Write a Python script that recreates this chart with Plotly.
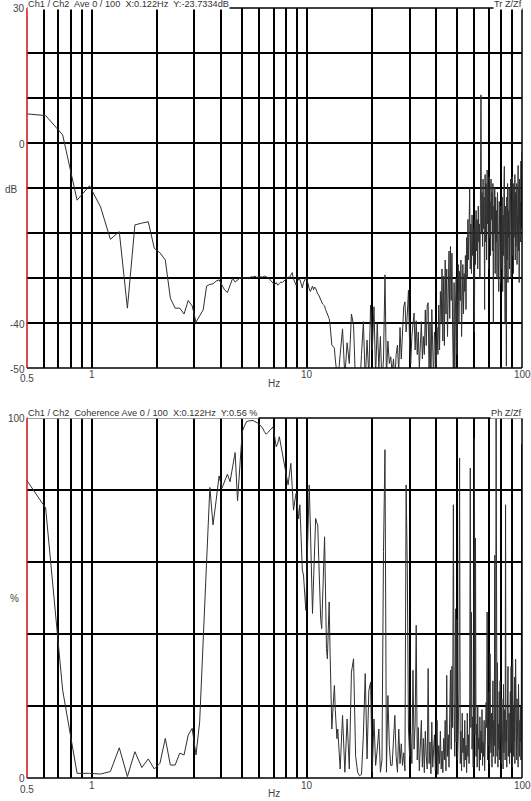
"""
Transfert Ch1/Ch2 (dB) et cohérence (%) sur axe fréquentiel logarithmique
"""

import math
import plotly.graph_objects as go

W, H = 531, 801

# résolution fréquentielle de l'analyseur (Hz)
DF = 0.1220703125

# raies basse fréquence : une par raie (k = 4 ... 113)
k_low = list(range(4, 114))
# raies haute fréquence : une raie sur trois (k = 114 ... 819)
k_high = list(range(114, 820, 3))

# transfert Tr Z/Zf (dB), raies k = 4 ... 113
tr_low = [
    6.5, 6.1, 1.8, -12.7, -9.5, -14.2, -21.4, -19.7, -36.7, -18.2,
    -17.8, -17.5, -23.4, -24.4, -26.0, -34.5, -36.7, -36.7, -38.0, -35.0,
    -36.2, -39.8, -38.4, -37.1, -31.8, -31.4, -31.3, -30.7, -30.4, -31.7,
    -32.7, -33.2, -31.6, -30.1, -30.9, -30.4, -30.0, -29.8, -30.1, -29.9,
    -30.2, -29.7, -29.8, -29.6, -29.9, -29.7, -29.8, -29.8, -29.6, -29.7,
    -29.9, -30.3, -30.8, -31.2, -31.5, -31.0, -31.6, -31.2, -30.9, -31.0,
    -30.6, -30.4, -30.1, -29.8, -29.9, -29.3, -28.8, -30.2, -31.0, -31.6,
    -30.8, -30.2, -30.3, -31.5, -32.2, -31.0, -30.6, -30.0, -30.3, -31.5,
    -32.4, -33.0, -32.2, -31.8, -32.6, -32.0, -32.3, -33.2, -33.5, -33.8,
    -34.4, -35.0, -35.3, -35.8, -36.0, -36.2, -37.0, -37.6, -38.2, -38.7,
    -39.0, -40.4, -42.8, -44.9, -45.1, -45.3, -45.6, -48.0, -49.5, -52.0,
]

# transfert Tr Z/Zf (dB), raies k = 114, 117, ... 819
tr_high = [
    -53, -47, -41.3, -52, -44.4, -49, -38, -40.5, -54, -51,
    -55, -47, -39.7, -53, -43.8, -52, -36, -46, -36.4, -52,
    -40, -50, -43, -54, -48, -29.3, -52, -44, -49, -47.5,
    -51, -48, -53, -47, -44.9, -51, -41, -48, -42, -36.4,
    -35.3, -42, -38, -32.7, -45, -49, -43, -41, -37.8, -46,
    -39.5, -47, -42, -50, -45, -39.7, -48, -43, -47, -37.1,
    -45, -36, -35.5, -52, -40, -55, -37, -48, -53, -42,
    -44, -51, -41, -47, -36, -46, -33, -40, -28, -44,
    -29.6, -45, -26, -38, -28, -43, -31, -24, -39, -23,
    -35, -24.5, -42, -52, -31, -55, -36, -30, -47, -33,
    -27, -40, -28.5, -35, -26, -43, -30, -27, -38, -29,
    -33, -25, -37, -21, -30, -17, -26, -19, -10, -28,
    -18, -29, -16, -25, -19, -31, -42, -17, -27, -15,
    -24, -17, -28, -14, -22, -18, -30, -13, 10.7, -20,
    -11, -23, -8, -19, -12, -37, -7, -22, -9, -26,
    -6, -18, -10, -28, -7.5, -21, -13, -25, -8, -17,
    -11, -24, -9, -40, -14, -20, -10, -29, -12, -22,
    -15, -30, -11, -26, -17, -33, -13, -24, -18, -31,
    -14, -28, -19, -12, -33, -16, -25, -11, -5.2, -27,
    -40, -14, -22, -49.6, -12, -26, -9, -31, -15, -21,
    -10, -28, -13, -22, -8, -30, -11, -19, -7.5, -25,
    -12, -29, -9, -21, -14, -7, -26, -11, -23, -16,
    -9, -27, -12, -20, -5, -24, -10, -31, -8, -18,
    -13, -22, -4, -19, -7, -2,
]

# cohérence (%), raies k = 4 ... 113
coh_low = [
    83.5, 75.0, 24.4, 1.3, 1.3, 1.1, 1.8, 8.4, 0.4, 7.3,
    2.9, 5.3, 2.5, 4.1, 11.0, 3.6, 3.6, 6.9, 6.4, 11.9,
    13.8, 6.4, 15.6, 40.0, 60.0, 80.7, 70.3, 77.0, 83.9, 80.5,
    82.8, 84.4, 82.3, 86.0, 90.4, 77.0, 86.6, 96.2, 97.8, 99.0,
    99.2, 99.3, 99.3, 99.0, 98.7, 98.4, 97.8, 97.2, 96.2, 95.5,
    96.0, 96.6, 97.1, 97.5, 95.0, 92.0, 93.0, 94.8, 92.5, 90.0,
    88.5, 85.5, 83.0, 81.4, 84.5, 87.4, 81.0, 74.4, 77.0, 79.1,
    76.0, 72.0, 75.9, 64.0, 57.8, 56.4, 52.0, 46.6, 58.0, 70.0,
    81.4, 70.0, 58.0, 45.7, 55.0, 68.0, 72.1, 71.0, 70.3, 61.0,
    51.0, 44.0, 41.5, 50.0, 60.0, 67.0, 52.0, 36.0, 33.1, 42.0,
    48.9, 35.0, 22.0, 13.6, 18.0, 23.0, 25.7, 19.0, 13.0, 10.9,
]

# cohérence (%), raies k = 114, 117, ... 819
coh_high = [
    13.6, 2.5, 17.4, 1.6, 16.4, 2.5, 29.4, 33.1, 6.2, 1.6,
    0.6, 1.0, 12.0, 29.0, 5.3, 24.3, 26.6, 1.6, 16.4, 3.5,
    8.0, 13.6, 1.6, 5.0, 62.9, 91.2, 1.6, 22.9, 9.0, 3.5,
    3.5, 11.0, 17.4, 6.0, 1.6, 13.6, 4.0, 9.5, 3.5, 7.0,
    2.0, 81.4, 58.0, 13.6, 6.0, 12.0, 4.0, 29.9, 8.0, 15.0,
    42.4, 5.0, 14.0, 2.0, 9.0, 16.0, 3.0, 11.0, 1.5, 13.0,
    6.0, 2.5, 30.4, 4.0, 10.0, 1.2, 15.5, 3.0, 8.0, 12.0,
    2.0, 6.5, 16.0, 1.0, 9.0, 4.0, 13.0, 2.5, 7.5, 1.5,
    11.0, 5.0, 16.0, 2.0, 28.5, 6.0, 12.0, 3.0, 18.0, 30.0,
    8.0, 31.0, 14.0, 75.9, 20.0, 6.0, 47.0, 10.0, 44.0, 5.0,
    12.0, 25.0, 88.9, 4.0, 13.0, 2.0, 18.0, 7.0, 11.0, 3.0,
    16.0, 5.0, 9.0, 1.5, 18.0, 6.0, 12.0, 4.0, 22.0, 86.1,
    14.0, 46.0, 8.0, 17.0, 3.0, 30.0, 94.4, 12.0, 66.6, 6.0,
    15.0, 3.0, 20.0, 8.0, 11.0, 2.0, 17.0, 5.0, 13.0, 7.0,
    19.0, 3.5, 10.0, 6.0, 16.0, 2.0, 12.0, 8.0, 21.0, 14.0,
    46.1, 5.0, 15.0, 9.0, 24.0, 4.0, 34.5, 11.0, 7.0, 18.0,
    3.0, 13.0, 27.0, 6.0, 16.0, 9.0, 61.9, 4.0, 20.0, 100.0,
    12.0, 6.0, 32.0, 3.0, 15.0, 8.0, 24.0, 5.0, 27.0, 11.0,
    17.0, 4.0, 22.0, 9.0, 14.0, 2.5, 26.0, 7.0, 12.0, 19.0,
    5.0, 75.9, 10.0, 16.0, 3.0, 21.0, 8.0, 31.0, 6.0, 13.0,
    18.0, 4.0, 11.0, 24.0, 7.0, 31.0, 9.0, 15.0, 3.0, 33.0,
    12.0, 6.0, 20.0, 10.0, 28.0, 4.0, 17.0, 33.0, 8.0, 14.0,
    5.0, 22.0, 11.0, 18.0, 3.0, 26.0, 9.0, 13.0, 6.0, 16.0,
    10.0, 20.0, 5.0, 14.0, 92.6, 18.0,
]

# grille verticale (Hz) et étiquettes
x_grid = [0.6, 0.7, 0.8, 0.9, 1, 2, 3, 4, 5, 6, 7, 8, 9, 10,
          20, 30, 40, 50, 60, 70, 80, 90, 100]
x_labels = [1, 10, 100]

freq = [DF * k for k in k_low + k_high]
tr_db = tr_low + tr_high
coh = coh_low + coh_high

FONT = "Liberation Sans, Arial, sans-serif"
LINE = '#303030'


def py(y):
    """pixel vertical -> coordonnée papier"""
    return 1 - y / H


def px(x):
    return x / W


fig = go.Figure()

fig.add_trace(go.Scatter(
    x=freq, y=tr_db, xaxis='x', yaxis='y', mode='lines',
    line=dict(color=LINE, width=1), hoverinfo='skip', showlegend=False
))
fig.add_trace(go.Scatter(
    x=freq, y=coh, xaxis='x2', yaxis='y2', mode='lines',
    line=dict(color=LINE, width=1), hoverinfo='skip', showlegend=False
))

x_common = dict(
    type='log', range=[math.log10(0.5), 2], domain=[px(27), px(522)],
    tickvals=x_grid, showticklabels=False, ticks='',
    showgrid=True, gridcolor='black', gridwidth=1.5,
    showline=False, zeroline=False, fixedrange=True
)
y_common = dict(
    showticklabels=False, ticks='', showgrid=True, gridcolor='black',
    gridwidth=1.5, showline=False, zeroline=False, fixedrange=True
)

fig.update_layout(
    width=W, height=H,
    margin=dict(l=0, r=0, t=0, b=0),
    paper_bgcolor='white', plot_bgcolor='white',
    xaxis=dict(x_common, anchor='y'),
    yaxis=dict(y_common, anchor='x', range=[-50, 30],
               domain=[py(368), py(8)], tickvals=[-40, -30, -20, -10, 0, 10, 20]),
    xaxis2=dict(x_common, anchor='y2'),
    yaxis2=dict(y_common, anchor='x2', range=[0, 100],
                domain=[py(778), py(418)], tickvals=[20, 40, 60, 80]),
)

# cadres : haut, droite, bas en noir, gauche en rouge
shapes = []
for xr, yr in (('x domain', 'y domain'), ('x2 domain', 'y2 domain')):
    for x0, y0, x1, y1, col in ((0, 1, 1, 1, 'black'), (1, 0, 1, 1, 'black'),
                                (0, 0, 1, 0, 'black'), (0, 0, 0, 1, '#d01010')):
        shapes.append(dict(type='line', xref=xr, yref=yr, x0=x0, y0=y0,
                           x1=x1, y1=y1, line=dict(color=col, width=1.5)))
fig.update_layout(shapes=shapes)

annotations = []


def label(text, x, y, xanchor='center', xref='paper', bg=None, color='#444', size=10):
    annotations.append(dict(
        text=text, x=x, y=y, xref=xref, yref='paper', xanchor=xanchor,
        yanchor='middle', showarrow=False, bgcolor=bg, borderpad=0,
        font=dict(family=FONT, size=size, color=color)
    ))


# titres (fond blanc masquant le cadre)
for title, tag, ybox in (
    ("Ch1 / Ch2  Ave 0 / 100  X:0.122Hz  Y:-23.7334dB", "Tr Z/Zf", 4),
    ("Ch1 / Ch2  Coherence Ave 0 / 100  X:0.122Hz  Y:0.56 %", "Ph Z/Zf", 413),
):
    label(title, px(27), py(ybox), xanchor='left', bg='white', color='#333', size=9.2)
    label(tag, px(523), py(ybox), xanchor='right', bg='white', color='#333', size=9.2)

# étiquettes des axes y
label("30", px(26), py(8), xanchor='right')
label("0", px(26), py(144), xanchor='right')
label("dB", px(11.5), py(189))
label("-40", px(26), py(324), xanchor='right')
label("-50", px(26), py(369), xanchor='right')
label("100", px(26), py(419), xanchor='right')
label("%", px(14), py(598))
label("0", px(26), py(778), xanchor='right')

# étiquettes des axes x
for xa, ylab, y05, yhz in (('x', 374, 378.5, 383.5), ('x2', 785, 789, 793.5)):
    label("0.5", px(27), py(y05))
    for v in x_labels:
        label(str(v), math.log10(v), py(ylab), xref=xa)
    label("Hz", px(274), py(yhz))

fig.update_layout(annotations=annotations)

# page sans marge ni barre d'outils, comme la capture de l'analyseur
fig.write_html(
    "out.html",
    config={'displayModeBar': False},
    post_script="document.body.style.margin='0';document.body.style.overflow='hidden';"
)
